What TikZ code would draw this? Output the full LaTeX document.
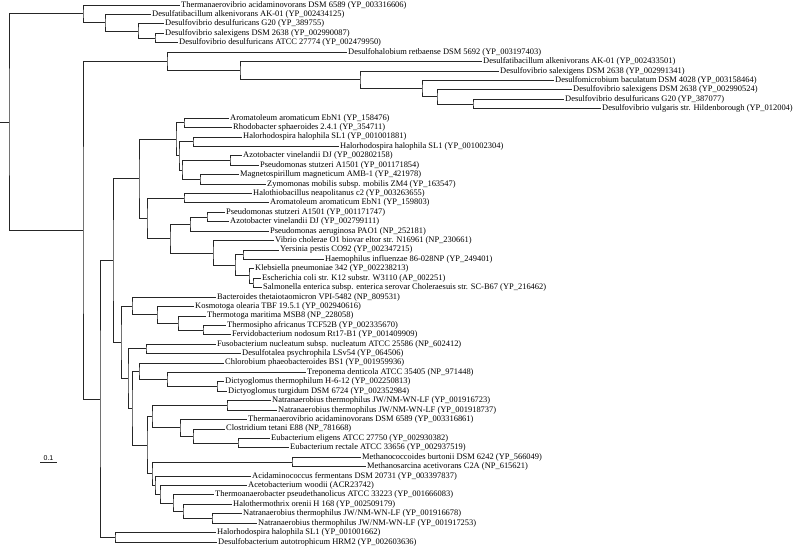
\documentclass[tikz,border=0pt]{standalone}
\usepackage{fontspec}
\setmainfont{Liberation Serif}
\newfontfamily\barfont{Liberation Sans}
\usetikzlibrary{calc}
\tikzset{
  br/.style={draw=black!85, line width=0.7pt},
  lab/.style={anchor=west, inner sep=0pt, font=\fontsize{8.45}{9}\selectfont},
}
\newcommand\lf[4]{\coordinate (#1) at (#3,{-(5+(#2-1)*9.42)});
  \node[lab] (t#1) at ([xshift=1.5pt]#1) {#4};}
\newcommand\inode[4]{\coordinate (m#1) at ($(#3)!0.5!(#4)$);
  \coordinate (x#1) at (#2,0);
  \coordinate (#1) at (x#1 |- m#1);
  \draw[br] (#3) -| (#1) |- (#4);}
\begin{document}
\begin{tikzpicture}[x=1pt,y=1pt]
\useasboundingbox (0,0) rectangle (793,-547);
% leaves
\lf{L1}{1}{179.5}{Thermanaerovibrio acidaminovorans DSM 6589 (YP\_003316606)}
\lf{L2}{2}{150.5}{Desulfatibacillum alkenivorans AK-01 (YP\_002434125)}
\lf{L3}{3}{163.5}{Desulfovibrio desulfuricans G20 (YP\_389755)}
\lf{L4}{4}{163.5}{Desulfovibrio salexigens DSM 2638 (YP\_002990087)}
\lf{L5}{5}{177.5}{Desulfovibrio desulfuricans ATCC 27774 (YP\_002479950)}
\lf{L6}{6}{346.5}{Desulfohalobium retbaense DSM 5692 (YP\_003197403)}
\lf{L7}{7}{481.5}{Desulfatibacillum alkenivorans AK-01 (YP\_002433501)}
\lf{L8}{8}{498.5}{Desulfovibrio salexigens DSM 2638 (YP\_002991341)}
\lf{L9}{9}{553.5}{Desulfomicrobium baculatum DSM 4028 (YP\_003158464)}
\lf{L10}{10}{571.5}{Desulfovibrio salexigens DSM 2638 (YP\_002990524)}
\lf{L11}{11}{563.5}{Desulfovibrio desulfuricans G20 (YP\_387077)}
\lf{L12}{12}{600.5}{Desulfovibrio vulgaris str. Hildenborough (YP\_012004)}
\lf{L13}{13}{228.5}{Aromatoleum aromaticum EbN1 (YP\_158476)}
\lf{L14}{14}{231.5}{Rhodobacter sphaeroides 2.4.1 (YP\_354711)}
\lf{L15}{15}{241.5}{Halorhodospira halophila SL1 (YP\_001001881)}
\lf{L16}{16}{338.5}{Halorhodospira halophila SL1 (YP\_001002304)}
\lf{L17}{17}{241.5}{Azotobacter vinelandii DJ (YP\_002802158)}
\lf{L18}{18}{258.5}{Pseudomonas stutzeri A1501 (YP\_001171854)}
\lf{L19}{19}{238.5}{Magnetospirillum magneticum AMB-1 (YP\_421978)}
\lf{L20}{20}{265.5}{Zymomonas mobilis subsp. mobilis ZM4 (YP\_163547)}
\lf{L21}{21}{251.5}{Halothiobacillus neapolitanus c2 (YP\_003263655)}
\lf{L22}{22}{268.5}{Aromatoleum aromaticum EbN1 (YP\_159803)}
\lf{L23}{23}{224.5}{Pseudomonas stutzeri A1501 (YP\_001171747)}
\lf{L24}{24}{228.5}{Azotobacter vinelandii DJ (YP\_002799111)}
\lf{L25}{25}{268.5}{Pseudomonas aeruginosa PAO1 (NP\_252181)}
\lf{L26}{26}{273.5}{Vibrio cholerae O1 biovar eltor str. N16961 (NP\_230661)}
\lf{L27}{27}{278.5}{Yersinia pestis CO92 (YP\_002347215)}
\lf{L28}{28}{323.5}{Haemophilus influenzae 86-028NP (YP\_249401)}
\lf{L29}{29}{253.5}{Klebsiella pneumoniae 342 (YP\_002238213)}
\lf{L30}{30}{260.5}{Escherichia coli str. K12 substr. W3110 (AP\_002251)}
\lf{L31}{31}{261.5}{Salmonella enterica subsp. enterica serovar Choleraesuis str. SC-B67 (YP\_216462)}
\lf{L32}{32}{215.5}{Bacteroides thetaiotaomicron VPI-5482 (NP\_809531)}
\lf{L33}{33}{193.5}{Kosmotoga olearia TBF 19.5.1 (YP\_002940616)}
\lf{L34}{34}{205.5}{Thermotoga maritima MSB8 (NP\_228058)}
\lf{L35}{35}{225.5}{Thermosipho africanus TCF52B (YP\_002335670)}
\lf{L36}{36}{230.5}{Fervidobacterium nodosum Rt17-B1 (YP\_001409909)}
\lf{L37}{37}{215.5}{Fusobacterium nucleatum subsp. nucleatum ATCC 25586 (NP\_602412)}
\lf{L38}{38}{240.5}{Desulfotalea psychrophila LSv54 (YP\_064506)}
\lf{L39}{39}{223.5}{Chlorobium phaeobacteroides BS1 (YP\_001959936)}
\lf{L40}{40}{305.5}{Treponema denticola ATCC 35405 (NP\_971448)}
\lf{L41}{41}{223.5}{Dictyoglomus thermophilum H-6-12 (YP\_002250813)}
\lf{L42}{42}{226.5}{Dictyoglomus turgidum DSM 6724 (YP\_002352984)}
\lf{L43}{43}{270.5}{Natranaerobius thermophilus JW/NM-WN-LF (YP\_001916723)}
\lf{L44}{44}{276.5}{Natranaerobius thermophilus JW/NM-WN-LF (YP\_001918737)}
\lf{L45}{45}{246.5}{Thermanaerovibrio acidaminovorans DSM 6589 (YP\_003316861)}
\lf{L46}{46}{224.5}{Clostridium tetani E88 (NP\_781668)}
\lf{L47}{47}{269.5}{Eubacterium eligens ATCC 27750 (YP\_002930382)}
\lf{L48}{48}{288.5}{Eubacterium rectale ATCC 33656 (YP\_002937519)}
\lf{L49}{49}{360.5}{Methanococcoides burtonii DSM 6242 (YP\_566049)}
\lf{L50}{50}{365.5}{Methanosarcina acetivorans C2A (NP\_615621)}
\lf{L51}{51}{250.5}{Acidaminococcus fermentans DSM 20731 (YP\_003397837)}
\lf{L52}{52}{246.5}{Acetobacterium woodii (ACR23742)}
\lf{L53}{53}{213.5}{Thermoanaerobacter pseudethanolicus ATCC 33223 (YP\_001666083)}
\lf{L54}{54}{231.5}{Halothermothrix orenii H 168 (YP\_002509179)}
\lf{L55}{55}{241.5}{Natranaerobius thermophilus JW/NM-WN-LF (YP\_001916678)}
\lf{L56}{56}{256.5}{Natranaerobius thermophilus JW/NM-WN-LF (YP\_001917253)}
\lf{L57}{57}{215.5}{Halorhodospira halophila SL1 (YP\_001001662)}
\lf{L58}{58}{216.5}{Desulfobacterium autotrophicum HRM2 (YP\_002603636)}
% top clade
\inode{nB}{155}{L4}{L5}
\inode{nA}{138}{L3}{nB}
\inode{nC}{105}{L2}{nA}
\inode{nD}{83}{L1}{nC}
\inode{nU}{473}{L11}{L12}
\inode{nT}{437}{L10}{nU}
\inode{nS}{422}{L9}{nT}
\inode{nR}{360}{L8}{nS}
\inode{nQ}{240}{L7}{nR}
\inode{nP}{167}{L6}{nQ}
% proteobacteria
\inode{a1}{184}{L13}{L14}
\inode{b1}{193}{L15}{L16}
\inode{b2}{230}{L17}{L18}
\inode{b3}{200}{L19}{L20}
\inode{b4}{182}{b2}{b3}
\inode{b5}{179}{b1}{b4}
\inode{gA}{176}{a1}{b5}
\inode{gB}{184}{L21}{L22}
\inode{p23}{207}{L23}{L24}
\inode{gC}{190}{p23}{L25}
\inode{yh}{243}{L27}{L28}
\inode{es}{253}{L30}{L31}
\inode{kes}{249}{L29}{es}
\inode{ent}{235}{yh}{kes}
\inode{gD}{213}{L26}{ent}
\inode{gCD}{170}{gC}{gD}
\inode{gX}{147}{gB}{gCD}
\inode{pr}{139}{gA}{gX}
% others
\inode{tf}{203}{L35}{L36}
\inode{tt}{178}{L34}{tf}
\inode{kt}{157}{L33}{tt}
\inode{bt}{132}{L32}{kt}
\inode{fd}{146}{L37}{L38}
\inode{dd}{217}{L41}{L42}
\inode{td}{167}{L40}{dd}
\inode{c1}{139}{L39}{td}
\inode{nn}{227}{L43}{L44}
\inode{ee}{238}{L47}{L48}
\inode{d1}{193}{L46}{ee}
\inode{d2}{180}{L45}{d1}
\inode{ff}{152}{nn}{d2}
\inode{mm}{292}{L49}{L50}
\inode{n55}{212}{L55}{L56}
\inode{n54}{183}{L54}{n55}
\inode{n53}{173}{L53}{n54}
\inode{n52}{160}{L52}{n53}
\inode{n51}{155}{L51}{n52}
\inode{gg}{152}{mm}{n51}
\inode{e1}{147}{ff}{gg}
\inode{ss}{132}{c1}{e1}
\inode{rr}{128}{fd}{ss}
\inode{qq}{121}{bt}{rr}
\inode{N4}{113}{pr}{qq}
\inode{N3}{115}{L57}{L58}
\inode{N2}{100}{N4}{N3}
\inode{N1}{83}{nP}{N2}
\inode{root}{9}{nD}{N1}
\coordinate (r0) at (0,0 |- root);
\draw[br] (r0) -- (root);
% scale bar
\coordinate (sb1) at (40,-462);
\coordinate (sb2) at (57,-462);
\draw[br] (sb1) -- (sb2);
\node[inner sep=0pt, anchor=south, font=\barfont\fontsize{7}{8}\selectfont] (sbl) at ([yshift=1.5pt]$(sb1)!0.5!(sb2)$) {0.1};
\end{tikzpicture}
\end{document}
